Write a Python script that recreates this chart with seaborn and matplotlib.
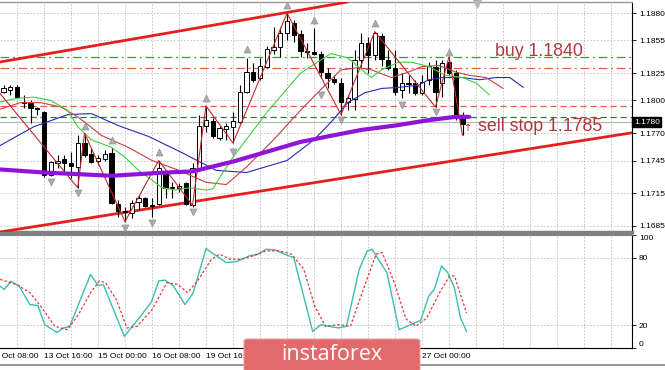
import matplotlib
matplotlib.use("Agg")
import matplotlib.pyplot as plt
import matplotlib.transforms as mtransforms
from matplotlib.patches import FancyBboxPatch
from matplotlib.lines import Line2D
import numpy as np
import seaborn as sns

sns.set_theme(style="white")
plt.rcParams['font.family'] = ['Liberation Sans', 'DejaVu Sans']

# ---------------- data (H4 bars, index 0 = 13 Oct 16:00) ----------------
bar_idx = list(range(-6, 63))
opens = [1.1808, 1.1810, 1.1812, 1.1799, 1.1798, 1.1793, 1.1789, 1.1732, 1.1743, 1.1746,
         1.1743, 1.1739, 1.1761, 1.1751, 1.1745, 1.1746, 1.1752, 1.1705, 1.1699, 1.1697,
         1.1707, 1.1711, 1.1704, 1.1705, 1.1734, 1.1721, 1.1720, 1.1724, 1.1704, 1.1738,
         1.1777, 1.1781, 1.1766, 1.1774, 1.1776, 1.1780, 1.1808, 1.1826, 1.1821, 1.1831,
         1.1846, 1.1849, 1.1862, 1.1871, 1.1861, 1.1845, 1.1844, 1.1843, 1.1825, 1.1820,
         1.1816, 1.1799, 1.1801, 1.1837, 1.1853, 1.1842, 1.1859, 1.1837, 1.1830, 1.1810,
         1.1816, 1.1816, 1.1807, 1.1819, 1.1831, 1.1816, 1.1835, 1.1825, 1.1785]
highs = [1.1814, 1.1814, 1.1814, 1.1805, 1.1800, 1.1794, 1.1790, 1.1745, 1.1750, 1.1750,
         1.1753, 1.1768, 1.1770, 1.1756, 1.1750, 1.1755, 1.1756, 1.1709, 1.1702, 1.1709,
         1.1713, 1.1712, 1.1711, 1.1745, 1.1734, 1.1725, 1.1724, 1.1725, 1.1743, 1.1787,
         1.1795, 1.1784, 1.1777, 1.1779, 1.1789, 1.1814, 1.1839, 1.1834, 1.1839, 1.1850,
         1.1867, 1.1867, 1.1880, 1.1874, 1.1865, 1.1853, 1.1866, 1.1845, 1.1830, 1.1823,
         1.1821, 1.1805, 1.1846, 1.1862, 1.1858, 1.1863, 1.1862, 1.1846, 1.1846, 1.1825,
         1.1823, 1.1819, 1.1823, 1.1835, 1.1837, 1.1837, 1.1840, 1.1828, 1.1789]
lows = [1.1807, 1.1805, 1.1802, 1.1793, 1.1779, 1.1787, 1.1730, 1.1731, 1.1738, 1.1734,
        1.1729, 1.1720, 1.1748, 1.1743, 1.1741, 1.1745, 1.1705, 1.1693, 1.1689, 1.1692,
        1.1700, 1.1702, 1.1693, 1.1704, 1.1711, 1.1711, 1.1716, 1.1704, 1.1702, 1.1735,
        1.1771, 1.1766, 1.1764, 1.1764, 1.1761, 1.1779, 1.1807, 1.1817, 1.1819, 1.1830,
        1.1843, 1.1840, 1.1855, 1.1854, 1.1840, 1.1839, 1.1842, 1.1821, 1.1811, 1.1815,
        1.1787, 1.1791, 1.1791, 1.1831, 1.1825, 1.1837, 1.1832, 1.1828, 1.1805, 1.1802,
        1.1807, 1.1805, 1.1805, 1.1814, 1.1794, 1.1803, 1.1823, 1.1782, 1.1768]
closes = [1.1811, 1.1812, 1.1803, 1.1798, 1.1793, 1.1792, 1.1732, 1.1744, 1.1745, 1.1743,
          1.1740, 1.1761, 1.1750, 1.1744, 1.1747, 1.1751, 1.1706, 1.1699, 1.1698, 1.1706,
          1.1711, 1.1703, 1.1703, 1.1738, 1.1720, 1.1720, 1.1722, 1.1705, 1.1738, 1.1777,
          1.1782, 1.1767, 1.1775, 1.1777, 1.1781, 1.1808, 1.1826, 1.1819, 1.1832, 1.1847,
          1.1849, 1.1862, 1.1873, 1.1860, 1.1845, 1.1844, 1.1843, 1.1826, 1.1821, 1.1817,
          1.1799, 1.1802, 1.1837, 1.1853, 1.1842, 1.1862, 1.1838, 1.1830, 1.1808, 1.1816,
          1.1815, 1.1807, 1.1817, 1.1832, 1.1808, 1.1834, 1.1825, 1.1785, 1.1778]

# thick purple moving average
ma_purple_x = [-7, 0, 10, 18, 22, 28, 33, 38, 42, 47, 52, 57, 61, 63]
ma_purple_y = [1.1737, 1.1734, 1.1731, 1.1734, 1.1735, 1.1744, 1.1753, 1.1762, 1.1767,
               1.1773, 1.1777, 1.1782, 1.1785, 1.1785]
# alligator lips (green)
lips_x = [-7, -4, -1.5, 1, 3.5, 5, 7, 10, 12, 14, 16, 17.5, 19.5, 21.5, 24, 25, 26.5, 28,
          33, 38, 42.5, 45, 47.5, 48.5, 50, 52.5, 54.5, 57, 59.5, 62, 64, 66]
lips_y = [1.1798, 1.1802, 1.1803, 1.1800, 1.1791, 1.1776, 1.1764, 1.1757, 1.1748, 1.1736,
          1.1727, 1.1720, 1.1718, 1.1720, 1.1718, 1.1719, 1.1734, 1.1748, 1.1789, 1.1825,
          1.1843, 1.1839, 1.1826, 1.1821, 1.1828, 1.1835, 1.1835, 1.1831, 1.1823, 1.1821,
          1.1816, 1.1805]
# alligator jaw (blue)
jaw_x = [-7, -1.5, 3.5, 7, 11, 15.5, 20.5, 25.5, 30, 36, 40, 42.5, 45, 47.5, 50, 52.5,
         55.5, 57, 59, 62, 64.5, 67, 69, 71]
jaw_y = [1.1757, 1.1776, 1.1787, 1.1788, 1.1777, 1.1767, 1.1752, 1.1736, 1.1734, 1.1745,
         1.1764, 1.1780, 1.1798, 1.1807, 1.1811, 1.1812, 1.1814, 1.1819, 1.1821, 1.1821,
         1.1819, 1.1821, 1.1821, 1.1812]
# alligator teeth (red)
teeth_x = [-7, -3.5, -0.5, 2.5, 5, 8.5, 12.5, 16, 20, 24, 27, 30, 34, 38, 41, 42.5, 44,
           46.5, 48.5, 51.5, 54, 56, 58.5, 61, 63, 65.5, 68]
teeth_y = [1.1791, 1.1798, 1.1798, 1.1794, 1.1785, 1.1768, 1.1757, 1.1745, 1.1736, 1.1725,
           1.1723, 1.1739, 1.1764, 1.1791, 1.1810, 1.1819, 1.1828, 1.1830, 1.1828, 1.1821,
           1.1826, 1.1831, 1.1832, 1.1826, 1.1823, 1.1821, 1.1811]
# zigzag pivots
zz_x = [-7, 5, 6, 12, 17, 22, 24, 28, 36, 44, 49, 58, 60, 62]
zz_y = [1.1810, 1.1720, 1.1770, 1.1689, 1.1745, 1.1704, 1.1795, 1.1761, 1.1880, 1.1787,
        1.1863, 1.1794, 1.1840, 1.1768]
# fractals
frac_up_x = [6, 10, 17, 24, 30, 36, 40, 49, 60]
frac_up_y = [1.1777, 1.1764, 1.1753, 1.1802, 1.1847, 1.1887, 1.1874, 1.1871, 1.1844]
frac_dn_x = [1, 5, 12, 16, 22, 28, 41, 44, 53, 58]
frac_dn_y = [1.1725, 1.1715, 1.1683, 1.1688, 1.1698, 1.1753, 1.1805, 1.1782, 1.1796, 1.1789]
# channel anchor points (bar index, price)
chan_upper = [(-6, 1.18358), (40, 1.18849)]
chan_lower = [(-6, 1.16800), (80, 1.17635)]
# horizontal levels
level_prices = [1.1840, 1.1830, 1.1795, 1.1785]
level_colors = ['#3d9a3d', '#e2603c', '#e2603c', '#2f7f2f']
level_dashes = [(7, 3, 1.5, 3), (7, 3, 1.5, 3), (5, 3), (5, 3)]
bid_price = 1.1780
# stochastic
stoch_main_x = [-6.5, -5.9, -4.9, -3.7, -2.1, -0.9, 0.1, 1.9, 2.9, 3.8, 6.9, 8.0, 8.8, 11.9,
                14.1, 15.9, 17.0, 17.9, 19.1, 20.9, 22.1, 24.0, 24.8, 27.0, 28.5, 30.4, 31.7,
                32.9, 34.2, 36.0, 37.0, 39.8, 41.0, 43.6, 44.8, 46.7, 47.9, 48.6, 50.8, 52.6,
                55.8, 57.0, 57.8, 58.9, 59.8, 60.8, 61.7, 62.6]
stoch_main_y = [54.8, 51.8, 59, 55, 38.4, 37.6, 20.6, 13.8, 17.7, 19.2, 65.2, 55.4, 56, 10.3,
                26.6, 40.6, 59.3, 60.1, 55.4, 38.4, 48.8, 88, 84.5, 75.6, 76.4, 81.5, 83,
                87.4, 86.9, 82.1, 80, 14.7, 20.6, 17.7, 19.2, 69.6, 86, 87.4, 66.7, 16.2,
                24.5, 45.9, 51.8, 72.6, 66.7, 53.3, 26.6, 14.7]
stoch_sig_x = [-6.5, -4.0, -2.1, -0.3, 1.6, 3.5, 5.1, 6.9, 8.2, 9.1, 10.7, 12.3, 13.8, 16.0,
               18.2, 19.8, 21.3, 22.9, 24.8, 26.0, 27.6, 29.2, 31.0, 32.9, 34.8, 36.7, 38.5,
               40.1, 41.7, 43.6, 45.4, 47.3, 49.2, 50.1, 52.0, 53.6, 55.1, 56.7, 58.6, 60.1,
               60.8, 62.6]
stoch_sig_y = [60.7, 56, 49, 35.5, 19.2, 16.2, 29.6, 49, 59.3, 57.8, 43, 17.7, 19.2, 34,
               57.8, 56.3, 49, 60.7, 78.5, 83, 78.5, 78.5, 81.5, 86, 86, 83, 69.6,
               37, 19.2, 20.7, 19.2, 51.8, 83, 84.5, 56.3, 25.9, 19.2, 26.6, 49, 63.8,
               63.8, 30.9]
# axes labels
price_ticks = [1.1880, 1.1855, 1.1825, 1.1800, 1.1770, 1.1745, 1.1715, 1.1685]
price_tick_labels = ['1.1880', '1.1855', '1.1825', '1.1800', '1.1770', '1.1745', '1.1715', '1.1685']
stoch_ticks = [100, 80, 20, 0]
# time labels visible in the reference (the ones under the watermark are hidden there)
time_label_idx = [-8, 0, 8, 16, 24, 56]
time_labels = ['12 Oct 08:00', '13 Oct 16:00', '15 Oct 00:00', '16 Oct 08:00', '19 Oct 16:00',
               '27 Oct 00:00']
time_tick_idx = [0, 8, 16, 24, 32, 40, 48, 56]

# ---------------- figure ----------------
W, H = 665, 370
fig = plt.figure(figsize=(W / 100, H / 100), dpi=100)
fig.patch.set_facecolor('white')


def rect(x0, y0, x1, y1):
    return [x0 / W, 1 - y1 / H, (x1 - x0) / W, (y1 - y0) / H]


ax = fig.add_axes(rect(0, 2, 632, 232))
axs = fig.add_axes(rect(0, 235, 632, 348))
XL = (-6.52, 87.11)
grid_kw = dict(color='#c0c0c0', lw=0.6, ls=(0, (2, 2)))

for a in (ax, axs):
    a.set_facecolor('white')
    a.set_xlim(*XL)
    a.set_xticks(np.arange(-4, 88, 4))
    a.set_xticks(time_tick_idx, minor=True)
    a.tick_params(axis='x', which='major', length=0, labelbottom=False)
    a.tick_params(axis='x', which='minor', length=0, labelbottom=False)
    a.grid(True, which='major', **grid_kw)
    a.yaxis.tick_right()
    a.tick_params(axis='y', which='major', length=3, width=0.6, color='black',
                  labelsize=6, pad=2, labelcolor='black', direction='out')
    a.set_axisbelow(True)
    a.spines['left'].set_visible(False)
    a.spines['right'].set_color('black')
    a.spines['right'].set_linewidth(0.8)

axs.tick_params(axis='x', which='minor', length=3, width=0.6, color='black', direction='out')

# main panel
ax.set_ylim(1.16795, 1.18902)
ax.set_yticks(price_ticks)
ax.set_yticklabels(price_tick_labels)
ax.spines['top'].set_color('#9a9a9a')
ax.spines['top'].set_linewidth(1.0)
ax.spines['bottom'].set_color('#808080')
ax.spines['bottom'].set_linewidth(2.5)

# horizontal levels
for p, c, d in zip(level_prices, level_colors, level_dashes):
    ax.axhline(p, color=c, lw=0.9, dashes=d, zorder=1.5)
ax.axhline(bid_price, color='#b8b8b8', lw=0.9, zorder=1.5)

# channel
ax.axline(chan_upper[0], chan_upper[1], color='#e3201e', lw=2.0, zorder=3)
ax.axline(chan_lower[0], chan_lower[1], color='#e3201e', lw=2.0, zorder=3)

# candles
o = np.array(opens); c = np.array(closes); h = np.array(highs); l = np.array(lows)
bx = np.array(bar_idx)
ax.vlines(bx, l, h, color='black', lw=0.8, zorder=4)
bull = c >= o
body_h = np.maximum(np.abs(c - o), 0.00003)
ax.bar(bx[bull], body_h[bull], bottom=np.minimum(o, c)[bull], width=0.62,
       color='white', edgecolor='black', linewidth=0.7, zorder=5)
ax.bar(bx[~bull], body_h[~bull], bottom=np.minimum(o, c)[~bull], width=0.62,
       color='black', edgecolor='black', linewidth=0.7, zorder=5)

# indicators
sns.lineplot(x=jaw_x, y=jaw_y, ax=ax, color='#2b2bb0', lw=0.8, legend=False, zorder=6)
sns.lineplot(x=teeth_x, y=teeth_y, ax=ax, color='#c84040', lw=0.8, legend=False, zorder=6)
sns.lineplot(x=lips_x, y=lips_y, ax=ax, color='#3fd03f', lw=0.8, legend=False, zorder=6)
sns.lineplot(x=zz_x, y=zz_y, ax=ax, color='#c02a2a', lw=0.8, legend=False, zorder=6,
             sort=False)
sns.lineplot(x=ma_purple_x, y=ma_purple_y, ax=ax, color='#8f14d6', lw=3.0, legend=False,
             zorder=7)

# fractals
ax.scatter(frac_up_x, frac_up_y, marker='^', s=26, color='#ababab', edgecolor='#8c8c8c',
           linewidth=0.4, zorder=8)
ax.scatter(frac_dn_x, frac_dn_y, marker='v', s=26, color='#ababab', edgecolor='#8c8c8c',
           linewidth=0.4, zorder=8)
# chart-shift marker
ax.scatter([64.1], [1.18895], marker='v', s=40, color='#b4b4b4', zorder=9, clip_on=False)

# annotations
txt_col = '#b0383e'
ax.text(66.8, 1.1841, 'buy 1.1840', color=txt_col, fontsize=12.8, ha='left', va='baseline',
        zorder=10)
ax.text(64.3, 1.1772, 'sell stop 1.1785', color=txt_col, fontsize=12.8, ha='left',
        va='baseline', zorder=10)
ax.text(62.8, 1.1772, '\u2191', color='#d02828', fontsize=7, ha='center', va='baseline',
        family=['DejaVu Sans'], zorder=10)

# current price tag
tr = mtransforms.blended_transform_factory(ax.transAxes, ax.transData)
ax.text(1.003, bid_price, '1.1780', transform=tr, color='white', fontsize=6, ha='left',
        va='center', clip_on=False, zorder=12,
        bbox=dict(boxstyle='square,pad=0.2', fc='black', ec='black'))

# stochastic panel
axs.set_ylim(0, 100)
axs.set_yticks(stoch_ticks)
axs.set_yticklabels([str(t) for t in stoch_ticks])
for lab, t in zip(axs.get_yticklabels(), stoch_ticks):
    if t == 100:
        lab.set_verticalalignment('top')
    elif t == 0:
        lab.set_verticalalignment('bottom')
axs.grid(False, axis='y')
for v in (20, 80):
    axs.axhline(v, **grid_kw, zorder=0.5)
axs.spines['top'].set_color('#808080')
axs.spines['top'].set_linewidth(1.5)
axs.spines['bottom'].set_color('black')
axs.spines['bottom'].set_linewidth(0.8)
sns.lineplot(x=stoch_main_x, y=stoch_main_y, ax=axs, color='#3cbdb2', lw=1.0, legend=False)
sns.lineplot(x=stoch_sig_x, y=stoch_sig_y, ax=axs, color='#e23a3a', lw=0.9, legend=False)
axs.lines[-1].set_dashes((2, 1.6))
axs.set_xlabel(''); axs.set_ylabel(''); ax.set_xlabel(''); ax.set_ylabel('')

trx = mtransforms.blended_transform_factory(axs.transData, axs.transAxes)
for t, s in zip(time_label_idx, time_labels):
    axs.text(t, -0.075, s, transform=trx, fontsize=6, ha='left', va='center',
             color='black', clip_on=False)

# window bottom edge
fig.add_artist(Line2D([0, 1], [1 - 365 / H] * 2, transform=fig.transFigure,
                      color='#9a9a9a', lw=1.5, zorder=5))

# watermark
wm = FancyBboxPatch((244 / W, -0.01), 176 / W, (370 - 339) / H + 0.01,
                    boxstyle='round,pad=0,rounding_size=0.006', transform=fig.transFigure,
                    fc='#e36a6a', ec='#e7a0a0', lw=0.8, zorder=20)
fig.add_artist(wm)
fig.text(332 / W, 1 - 354 / H, 'instaforex', color='white', fontsize=15.5, ha='center',
         va='center', zorder=21, family=['Open Sans', 'DejaVu Sans'])

fig.savefig('out.png', dpi=100, facecolor='white')
